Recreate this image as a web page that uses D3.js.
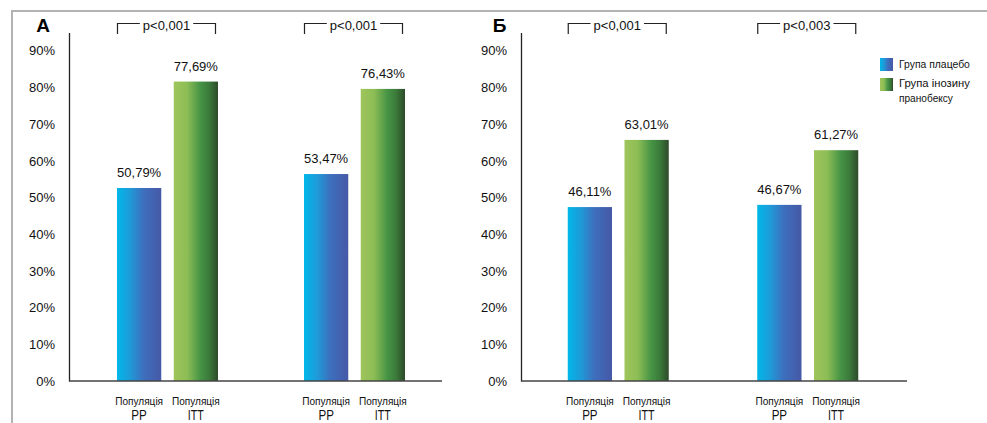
<!DOCTYPE html>
<html><head><meta charset="utf-8">
<script src="https://cdn.jsdelivr.net/npm/d3@7"></script>
<style>
body{margin:0;background:#fff;}
svg{display:block;}
.tick text{font-family:"Liberation Sans",Arial,sans-serif;font-size:13px;fill:#111;}
.narrow{font-family:"Liberation Sans",Arial,sans-serif;}
</style></head>
<body>
<svg id="c" width="987" height="423"></svg>
<script>
// ---- data ----
const panels = ["А", "Б"];
const groups = ["g1", "g2"];
const series = ["Група плацебо", "Група інозину пранобексу"];
const catLine1 = ["Популяція", "Популяція"];
const catLine2 = ["PP", "ITT"];
// bar heights as drawn in the picture (against the axis)
const placeboA = [52.6, 56.4];
const inosineA = [81.6, 79.6];
const placeboB = [47.4, 48.0];
const inosineB = [65.7, 62.9];
// printed value labels
const labelsPlaceboA = ["50,79%", "53,47%"];
const labelsInosineA = ["77,69%", "76,43%"];
const labelsPlaceboB = ["46,11%", "46,67%"];
const labelsInosineB = ["63,01%", "61,27%"];
const pValuesA = ["p<0,001", "p<0,001"];
const pValuesB = ["p<0,001", "p<0,003"];
const yTicks = [0, 10, 20, 30, 40, 50, 60, 70, 80, 90];

const svg = d3.select("#c");
const defs = svg.append("defs");
const gb = defs.append("linearGradient").attr("id","gBlue").attr("x1","0").attr("x2","1").attr("y1","0").attr("y2","0");
[[0,"#00b7e9"],[0.3,"#1f9ad8"],[0.6,"#3d6fbd"],[1,"#4658a6"]].forEach(s=>gb.append("stop").attr("offset",s[0]).attr("stop-color",s[1]));
const gg = defs.append("linearGradient").attr("id","gGreen").attr("x1","0").attr("x2","1").attr("y1","0").attr("y2","0");
[[0,"#9fc55b"],[0.3,"#8dbd55"],[0.6,"#469445"],[0.8,"#3b7a3a"],[1,"#2e4a2a"]].forEach(s=>gg.append("stop").attr("offset",s[0]).attr("stop-color",s[1]));
const fills = ["url(#gBlue)", "url(#gGreen)"];

// horizontally squeeze/stretch text to a target width via transform
function fit(sel, target){
  sel.each(function(){
    const el = d3.select(this);
    const w = this.getComputedTextLength();
    const x = +el.attr("x"), yy = +el.attr("y");
    const k = target / w;
    el.attr("transform", `translate(${x},${yy}) scale(${k},1) translate(${-x},${-yy})`);
  });
  return sel;
}

// frame
svg.append("line").attr("x1",12).attr("x2",987).attr("y1",11).attr("y2",11).attr("stroke","#b3b3b3").attr("stroke-width",2);
svg.append("line").attr("x1",12).attr("x2",12).attr("y1",10).attr("y2",423).attr("stroke","#b3b3b3").attr("stroke-width",2);

const y = d3.scaleLinear().domain([0, 95]).range([381, 32.4]);

const panelDefs = [
  {name: panels[0], axisX: 69, axisEnd: 442, band: [74, 448], titleX: 43, vals: [placeboA, inosineA], labs: [labelsPlaceboA, labelsInosineA], p: pValuesA},
  {name: panels[1], axisX: 521, axisEnd: 907, band: [523.5, 902.5], titleX: 499.5, vals: [placeboB, inosineB], labs: [labelsPlaceboB, labelsInosineB], p: pValuesB}
];

panelDefs.forEach(P => {
  const g = svg.append("g");
  const x = d3.scaleBand().domain(groups).range(P.band).padding(0);
  const inner = d3.scaleBand().domain(series).range([-50.5, 50.5]).paddingInner(0.22).paddingOuter(0);

  // y axis
  const ax = g.append("g").attr("transform",`translate(${P.axisX},0)`)
    .call(d3.axisLeft(y).tickValues(yTicks).tickSize(0).tickSizeOuter(0).tickPadding(14).tickFormat(d=>d+"%"));
  ax.select(".domain").attr("stroke","#222").attr("stroke-width",1.3);

  // title
  g.append("text").attr("x",P.titleX).attr("y",32).attr("text-anchor","middle")
    .attr("font-family","Liberation Sans, Arial, sans-serif").attr("font-weight","bold").attr("font-size",19).text(P.name);

  groups.forEach((gr, gi) => {
    const cx = x(gr) + x.bandwidth()/2;
    series.forEach((s, si) => {
      const v = P.vals[si][gi];
      const bx = cx + inner(s);
      const mx = bx + inner.bandwidth()/2;
      g.append("rect").attr("x",bx).attr("width",inner.bandwidth())
        .attr("y",y(v)).attr("height",y(0)-y(v)).attr("fill",fills[si]);
      g.append("text").attr("x",mx).attr("y",y(v)-11).attr("text-anchor","middle")
        .attr("font-family","Liberation Sans, Arial, sans-serif").attr("font-size",13).attr("fill","#111").text(P.labs[si][gi]);
      fit(g.append("text").attr("class","narrow").attr("x",mx).attr("y",405).attr("text-anchor","middle")
        .attr("font-size",11.5).attr("fill","#111").text(catLine1[si]), 48);
      fit(g.append("text").attr("class","narrow").attr("x",mx).attr("y",420).attr("text-anchor","middle")
        .attr("font-size",14.5).attr("fill","#111").text(catLine2[si]), si === 0 ? 15.5 : 16);
    });
    // bracket
    const bl = cx - 50, br = cx + 48, by = 23.5, bm = (bl+br)/2;
    const t = g.append("text").attr("x",bm).attr("y",30).attr("text-anchor","middle")
      .attr("font-family","Liberation Sans, Arial, sans-serif").attr("font-size",13).attr("fill","#111").text(P.p[gi]);
    const tw = t.node().getComputedTextLength();
    const path = d3.path();
    path.moveTo(bl, 34); path.lineTo(bl, by); path.lineTo(bm - tw/2 - 3, by);
    path.moveTo(bm + tw/2 + 3, by); path.lineTo(br, by); path.lineTo(br, 34);
    g.append("path").attr("d", path.toString()).attr("fill","none").attr("stroke","#222").attr("stroke-width",1.2);
  });

  // baseline
  g.append("line").attr("x1",P.axisX).attr("x2",P.axisEnd).attr("y1",y(0)).attr("y2",y(0)).attr("stroke","#444").attr("stroke-width",1.5);
});

// legend
const legY = [58, 78];
const leg = svg.append("g");
series.forEach((s, i) => {
  leg.append("rect").attr("x",880).attr("y",legY[i]).attr("width",13).attr("height",13).attr("fill",fills[i]);
});
fit(leg.append("text").attr("class","narrow").attr("x",899).attr("y",68).attr("font-size",11).attr("fill","#111").text("Група плацебо"), 71);
fit(leg.append("text").attr("class","narrow").attr("x",899).attr("y",87).attr("font-size",11).attr("fill","#111").text("Група інозину"), 71);
fit(leg.append("text").attr("class","narrow").attr("x",899).attr("y",102).attr("font-size",11).attr("fill","#111").text("пранобексу"), 54);
</script>
</body></html>
